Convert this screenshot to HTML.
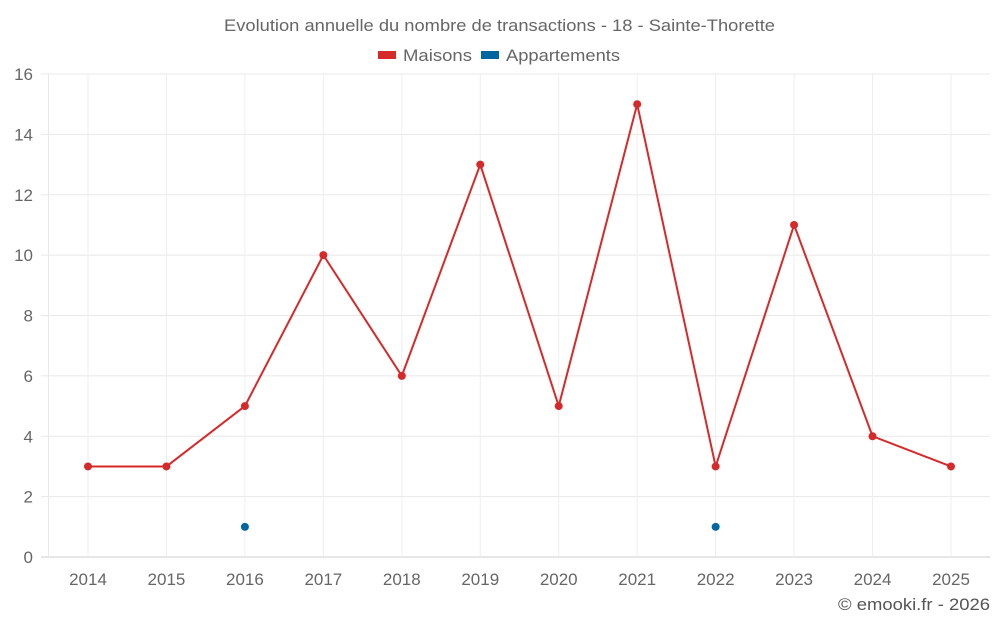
<!DOCTYPE html>
<html><head><meta charset="utf-8"><style>
body{margin:0;background:#fff;font-family:"Liberation Sans",sans-serif;}
</style></head><body>
<svg id="c" width="1000" height="625" xmlns="http://www.w3.org/2000/svg" font-family="Liberation Sans, sans-serif">
<text x="224" y="31" textLength="551" lengthAdjust="spacingAndGlyphs" font-size="17" fill="#666">Evolution annuelle du nombre de transactions - 18 - Sainte-Thorette</text>
<g><rect x="378" y="51" width="18" height="8" fill="#d62a2a"/><text x="403" y="61" textLength="69" lengthAdjust="spacingAndGlyphs" font-size="17" fill="#666">Maisons</text></g>
<g><rect x="481" y="51" width="18" height="8" fill="#0066a0"/><text x="506" y="61" textLength="114" lengthAdjust="spacingAndGlyphs" font-size="17" fill="#666">Appartements</text></g>
<text x="838" y="610" textLength="152" lengthAdjust="spacingAndGlyphs" font-size="17" fill="#555">© emooki.fr - 2026</text>
<g id="grid"></g><g id="axes"></g><g id="series"></g>
</svg>
<script>
const years=[2014,2015,2016,2017,2018,2019,2020,2021,2022,2023,2024,2025];
const maisons=[3,3,5,10,6,13,5,15,3,11,4,3];
const appartements=[null,null,1,null,null,null,null,null,1,null,null,null];
const yTicks=[0,2,4,6,8,10,12,14,16];
const NS="http://www.w3.org/2000/svg";
const X=i=>88+i*(951-88)/11, Y=v=>557-v*(557-74)/16;
function mk(t,a,p){const e=document.createElementNS(NS,t);for(const k in a)e.setAttribute(k,a[k]);p.appendChild(e);return e;}
const g=document.getElementById('grid'),ax=document.getElementById('axes'),s=document.getElementById('series');
yTicks.forEach(v=>{
 const l=mk('line',{x1:41,x2:990,y1:Y(v),y2:Y(v),stroke:v===0?'#ccc':'#e8e8e8'},g);
 
 
 const t=mk('text',{x:33,y:Y(v)+6,'text-anchor':'end','font-size':17,fill:'#666'},ax);t.textContent=v;
 
 
});
mk('line',{x1:48.5,x2:48.5,y1:74,y2:557,stroke:'#e8e8e8'},g);
years.forEach((y,i)=>{
 const l=mk('line',{x1:X(i),x2:X(i),y1:74,y2:557,stroke:'#eee'},g);
 
 
 const t=mk('text',{x:X(i),y:585,'text-anchor':'middle','font-size':17,fill:'#666'},ax);t.textContent=y;
 
 
});
const pl=mk('polyline',{points:maisons.map((v,i)=>X(i)+','+Y(v)).join(' '),fill:'none',stroke:'#d62a2a','stroke-width':2},s);


maisons.forEach((v,i)=>{const c=mk('circle',{cx:X(i),cy:Y(v),r:4,fill:'#d62a2a'},s);
 
 });
appartements.forEach((v,i)=>{if(v==null)return;const c=mk('circle',{cx:X(i),cy:Y(v),r:4,fill:'#0066a0'},s);
 
 });
</script>
</body></html>
